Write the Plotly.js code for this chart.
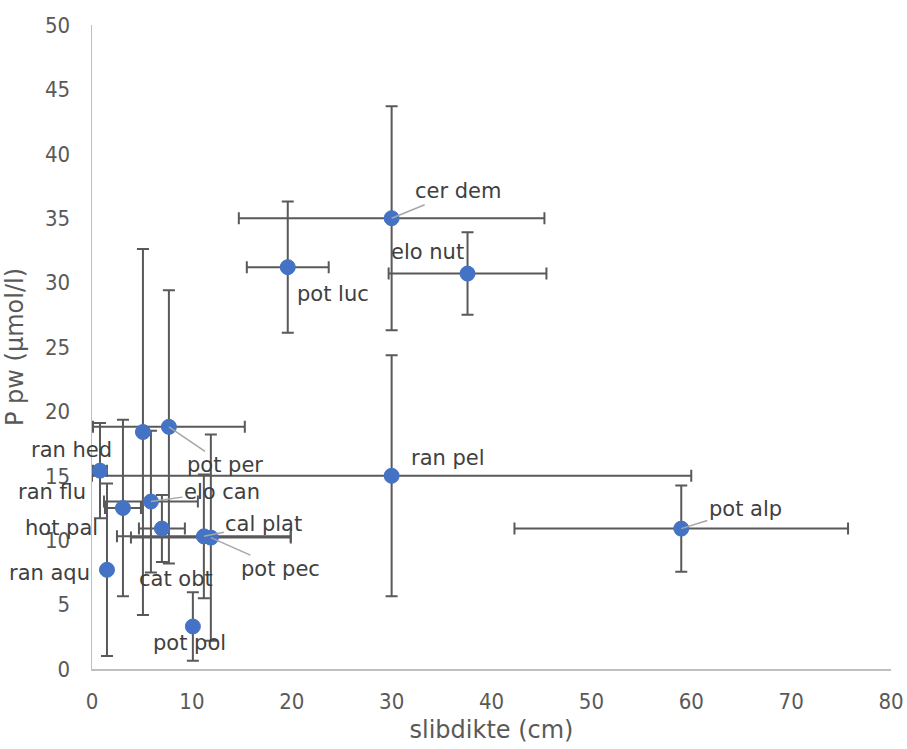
<!DOCTYPE html>
<html>
<head>
<meta charset="utf-8">
<script src="https://cdn.plot.ly/plotly-3.0.1.min.js"></script>
<style>html,body{margin:0;padding:0;background:#fff;}#chart{width:907px;height:749px;}</style>
</head>
<body>
<div id="chart"></div>
<script>
// species labels
const names = ['cer dem','elo nut','pot luc','ran pel','pot alp','pot per','ran hed','ran flu','elo can','hot pal','cat obt','cal plat','pot pec','ran aqu','pot pol'];
// slibdikte (cm)
const xVals = [30.0, 37.6, 19.6, 30.0, 59.0, 7.7, 5.1, 0.8, 5.9, 3.1, 7.0, 11.2, 11.9, 1.5, 10.1];
// P pw (µmol/l)
const yVals = [35.0, 30.7, 31.2, 15.0, 10.9, 18.8, 18.4, 15.4, 13.0, 12.5, 10.9, 10.3, 10.2, 7.7, 3.3];
// error in x
const xErr = [15.3, 7.9, 4.1, 30.0, 16.7, 7.6, 0.2, 0.7, 4.7, 1.8, 2.3, 8.7, 8.0, 0.2, 0.2];
// error in y
const yErr = [8.7, 3.2, 5.1, 9.35, 3.35, 10.6, 14.2, 3.7, 5.5, 6.85, 2.6, 4.8, 8.0, 6.7, 2.65];

// label placement (pixel offsets from point) – style only
const labelPos = {
  'cer dem': {dx: 66, dy: -27, leader: true},
  'elo nut': {dx: -40, dy: -22, leader: false},
  'pot luc': {dx: 45, dy: 27, leader: false},
  'ran pel': {dx: 56, dy: -18, leader: false},
  'pot alp': {dx: 64, dy: -20, leader: true},
  'pot per': {dx: 56, dy: 38, leader: true},
  'ran hed': {dx: -71, dy: 18, leader: false},
  'ran flu': {dx: -48, dy: 21, leader: false},
  'elo can': {dx: 71, dy: -10, leader: true},
  'hot pal': {dx: -61, dy: 20, leader: false},
  'cat obt': {dx: 14, dy: 50, leader: false},
  'cal plat': {dx: 60, dy: -12, leader: true},
  'pot pec': {dx: 70, dy: 31, leader: true},
  'ran aqu': {dx: -57, dy: 3, leader: false},
  'pot pol': {dx: -3, dy: 16, leader: false}
};

const FONT = 'DejaVu Sans, Verdana, sans-serif';
const TICKFONT = 'DejaVu Sans Condensed, DejaVu Sans, sans-serif';
const errStyle = {type: 'data', symmetric: true, color: '#595959', thickness: 2, width: 6};

const trace = {
  type: 'scatter', mode: 'markers',
  x: xVals, y: yVals, text: names,
  marker: {color: '#4472C4', size: 15, line: {color: '#4472C4', width: 1}},
  error_x: Object.assign({array: xErr}, errStyle),
  error_y: Object.assign({array: yErr}, errStyle),
  hoverinfo: 'text+x+y', showlegend: false
};

const annotations = names.map((n, i) => {
  const p = labelPos[n];
  const base = {
    x: xVals[i], y: yVals[i], xref: 'x', yref: 'y', text: n,
    font: {family: FONT, size: 21, color: '#404040'}
  };
  if (p.leader) {
    return Object.assign(base, {
      showarrow: true, arrowhead: 0, arrowwidth: 1.5, arrowcolor: '#a6a6a6',
      ax: p.dx, ay: p.dy, standoff: 0
    });
  }
  return Object.assign(base, {showarrow: false, xshift: p.dx, yshift: -p.dy});
});

const layout = {
  width: 907, height: 749,
  margin: {l: 92, r: 16, t: 25, b: 80},
  paper_bgcolor: '#ffffff', plot_bgcolor: '#ffffff',
  font: {family: FONT, color: '#595959', size: 20},
  xaxis: {
    range: [0, 80], dtick: 10, tick0: 0,
    showgrid: false, zeroline: false,
    showline: true, linecolor: '#bfbfbf', linewidth: 1.5,
    ticks: '', ticklabelstandoff: 12,
    tickfont: {family: TICKFONT, size: 22, color: '#595959'},
    title: {text: 'slibdikte (cm)', font: {family: FONT, size: 24, color: '#595959'}, standoff: 8}
  },
  yaxis: {
    range: [0, 50], dtick: 5, tick0: 0,
    showgrid: false, zeroline: false,
    showline: true, linecolor: '#bfbfbf', linewidth: 1.5,
    ticks: '', ticklabelstandoff: 16,
    tickfont: {family: TICKFONT, size: 22, color: '#595959'},
    title: {text: 'P pw (µmol/l)', font: {family: FONT, size: 24, color: '#595959'}, standoff: 14}
  },
  annotations: annotations
};

Plotly.newPlot('chart', [trace], layout, {displayModeBar: false, staticPlot: true});
</script>
</body>
</html>
